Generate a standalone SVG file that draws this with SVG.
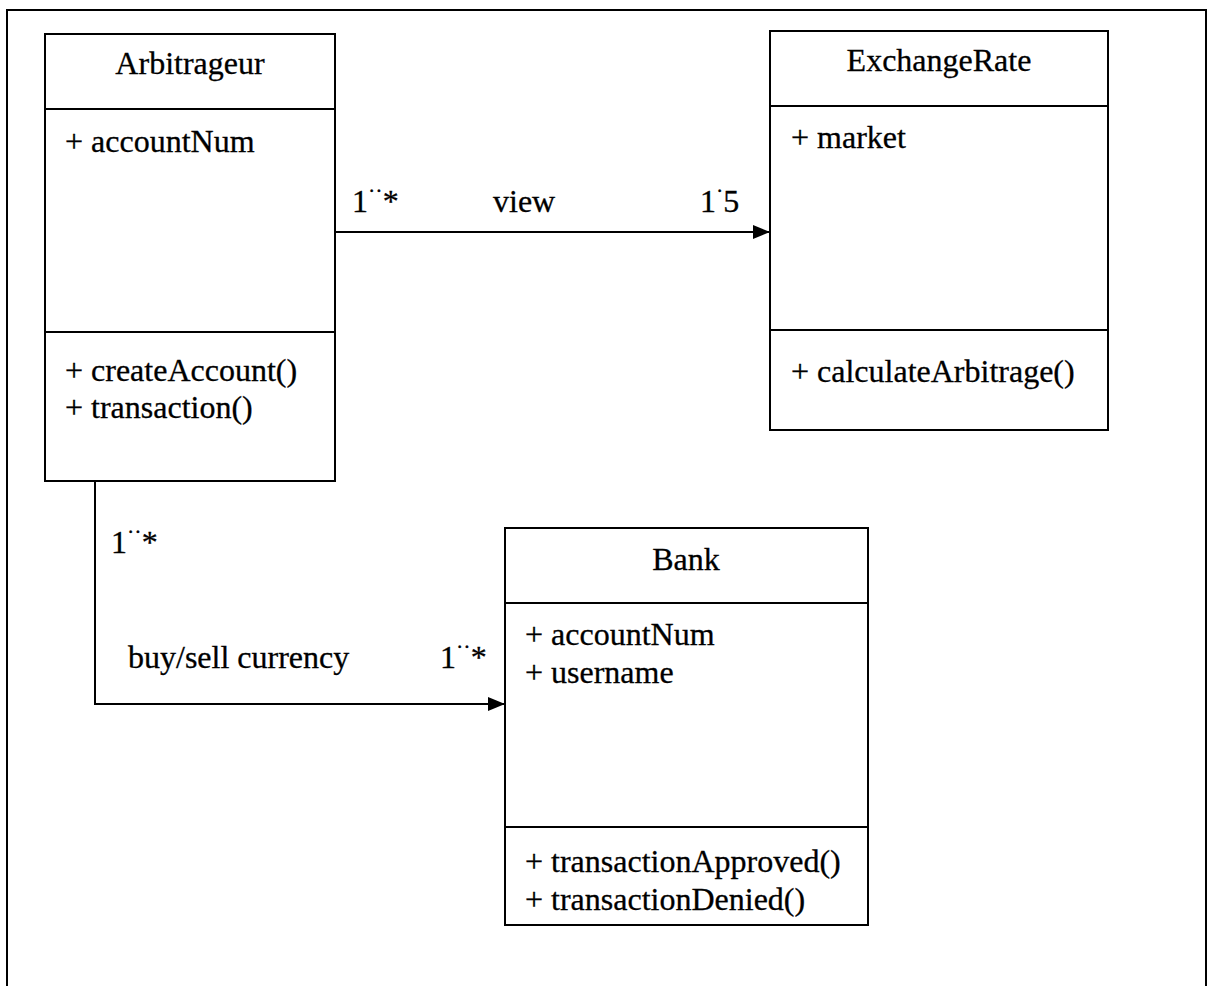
<svg xmlns="http://www.w3.org/2000/svg" width="1213" height="986" viewBox="0 0 1213 986">
<defs>
<style>
text{font-family:"Liberation Serif","Times New Roman",serif;font-size:32px;fill:#000;stroke:#000;stroke-width:0.3}
.t{text-anchor:middle}
.box{fill:#fff;stroke:#000;stroke-width:2}
.ln{stroke:#000;stroke-width:2;fill:none}
.d{font-size:22px}
</style>
<marker id="arr" markerWidth="17" markerHeight="14" refX="17" refY="7" orient="auto" markerUnits="userSpaceOnUse">
<path d="M0,0 L17,7 L0,14 Z" fill="#000"/>
</marker>
</defs>
<rect width="1213" height="986" fill="#fff"/>
<path class="ln" d="M7,990 L7,10 L1206,10 L1206,990"/>
<g id="connectors">
<line class="ln" x1="335" y1="232" x2="770" y2="232" marker-end="url(#arr)"/>
<path class="ln" d="M95,481 L95,704 L505,704" marker-end="url(#arr)"/>
<text x="352" y="212">1<tspan class="d" dy="-14">··</tspan><tspan dy="14">*</tspan></text>
<text x="493" y="212">view</text>
<text x="700" y="212">1<tspan class="d" dy="-14">·</tspan><tspan dy="14">5</tspan></text>
<text x="111" y="553">1<tspan class="d" dy="-14">··</tspan><tspan dy="14">*</tspan></text>
<text x="128" y="668">buy/sell currency</text>
<text x="440" y="668">1<tspan class="d" dy="-14">··</tspan><tspan dy="14">*</tspan></text>
</g>
<g id="Arbitrageur">
<rect class="box" x="45" y="34" width="290" height="447"/>
<line class="ln" x1="45" y1="109" x2="335" y2="109"/>
<line class="ln" x1="45" y1="332" x2="335" y2="332"/>
<text class="t" x="190" y="74">Arbitrageur</text>
<text x="65" y="152">+ accountNum</text>
<text x="65" y="381">+ createAccount()</text>
<text x="65" y="418">+ transaction()</text>
</g>
<g id="ExchangeRate">
<rect class="box" x="770" y="31" width="338" height="399"/>
<line class="ln" x1="770" y1="106" x2="1108" y2="106"/>
<line class="ln" x1="770" y1="330" x2="1108" y2="330"/>
<text class="t" x="939" y="71">ExchangeRate</text>
<text x="791" y="148">+ market</text>
<text x="791" y="382">+ calculateArbitrage()</text>
</g>
<g id="Bank">
<rect class="box" x="505" y="528" width="363" height="397"/>
<line class="ln" x1="505" y1="603" x2="868" y2="603"/>
<line class="ln" x1="505" y1="827" x2="868" y2="827"/>
<text class="t" x="686" y="570">Bank</text>
<text x="525" y="645">+ accountNum</text>
<text x="525" y="683">+ username</text>
<text x="525" y="872">+ transactionApproved()</text>
<text x="525" y="910">+ transactionDenied()</text>
</g>
</svg>
